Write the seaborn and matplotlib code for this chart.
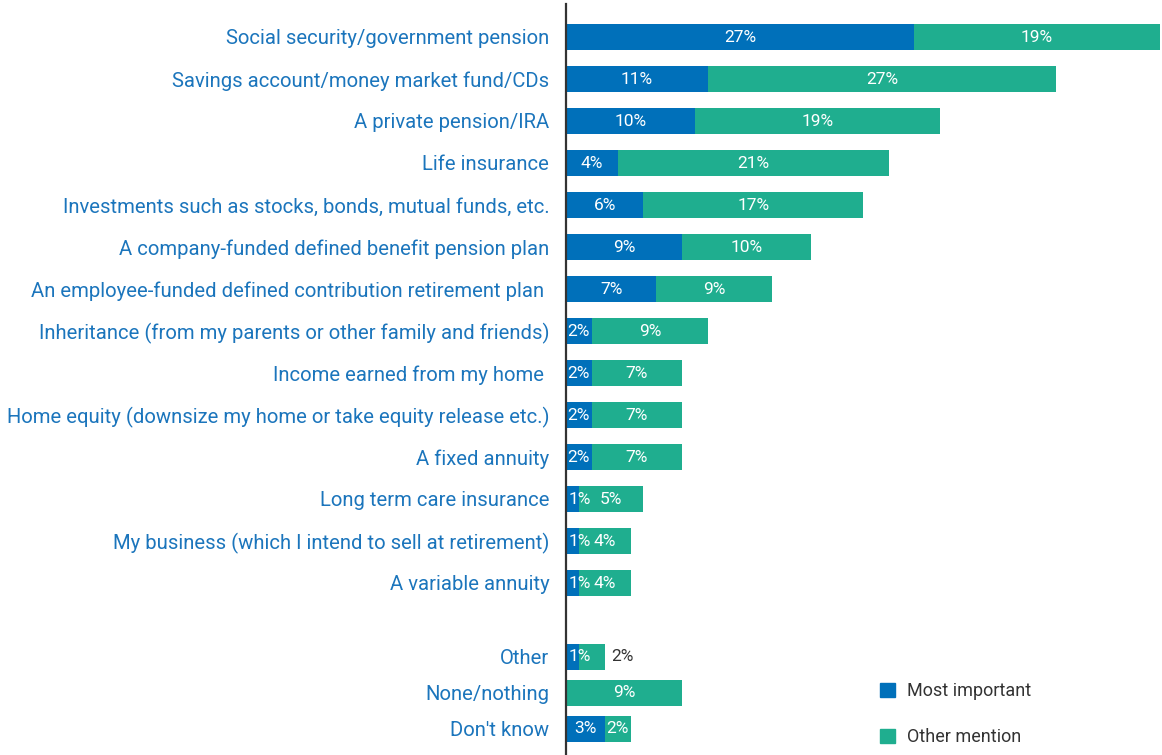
import matplotlib.pyplot as plt
import matplotlib.patches as mpatches
import pandas as pd
import seaborn as sns

# Data
sources = ['Social security/government pension',
           'Savings account/money market fund/CDs',
           'A private pension/IRA',
           'Life insurance',
           'Investments such as stocks, bonds, mutual funds, etc.',
           'A company-funded defined benefit pension plan',
           'An employee-funded defined contribution retirement plan ',
           'Inheritance (from my parents or other family and friends)',
           'Income earned from my home ',
           'Home equity (downsize my home or take equity release etc.)',
           'A fixed annuity',
           'Long term care insurance',
           'My business (which I intend to sell at retirement)',
           'A variable annuity',
           'Other',
           'None/nothing',
           "Don't know"]
most_important = [27, 11, 10, 4, 6, 9, 7, 2, 2, 2, 2, 1, 1, 1, 1, 0, 3]
other_mention = [19, 27, 19, 21, 17, 10, 9, 9, 7, 7, 7, 5, 4, 4, 2, 9, 2]

blue = '#0070BA'
teal = '#1FAE8F'
label_blue = '#1B75BC'

# row positions: 14 main rows, then a gap and 3 tighter rows
main_rows = 14
positions = list(range(main_rows)) + [14.76 + k * 36 / 42 for k in range(3)]

df = pd.DataFrame({'source': sources, 'pos': positions,
                   'most': most_important, 'other': other_mention})
df['total'] = df['most'] + df['other']

sns.set_theme(style='white')
plt.rcParams['font.family'] = ['Roboto', 'DejaVu Sans']

fig = plt.figure(figsize=(11.62, 7.55), dpi=100)
ax = fig.add_axes([566 / 1162, 0, 1 - 566 / 1162 - 0.002, 1 - 4 / 755])

sns.barplot(data=df, x='total', y='pos', orient='y', native_scale=True,
            color=teal, saturation=1, width=0.722, errorbar=None,
            linewidth=0, ax=ax)
sns.barplot(data=df, x='most', y='pos', orient='y', native_scale=True,
            color=blue, saturation=1, width=0.722, errorbar=None,
            linewidth=0, ax=ax)

ax.set_xlim(0, 46)
ax.set_ylim((755 - 37) / 42, (4 - 37) / 42)
ax.set_yticks(positions)
ax.set_yticklabels(sources, fontsize=14.6, color=label_blue)
ax.tick_params(axis='y', length=0, pad=12)
ax.set_xticks([])
ax.set_xlabel('')
ax.set_ylabel('')
for s in ['top', 'right', 'bottom']:
    ax.spines[s].set_visible(False)
ax.spines['left'].set_color('#333333')
ax.spines['left'].set_linewidth(1.6)

# value labels
for _, r in df.iterrows():
    if r['most'] > 0:
        if r['most'] <= 1:
            ax.text(0.2, r['pos'], f"{r['most']}%", ha='left', va='center',
                    color='white', fontsize=12.5)
        else:
            ax.text(r['most'] / 2, r['pos'], f"{r['most']}%", ha='center',
                    va='center', color='white', fontsize=12.5)
    if r['source'] == 'Other':
        ax.text(r['total'] + 0.5, r['pos'], f"{r['other']}%", ha='left',
                va='center', color='#333333', fontsize=12.5)
    else:
        ax.text(r['most'] + r['other'] / 2, r['pos'], f"{r['other']}%",
                ha='center', va='center', color='white', fontsize=12.5)

handles = [mpatches.Patch(color=blue, label='Most important'),
           mpatches.Patch(color=teal, label='Other mention')]
fig.legend(handles=handles, loc='upper left', bbox_to_anchor=(871 / 1162, 1 - 673 / 755),
           frameon=False, fontsize=13, handlelength=0.85, handleheight=0.85,
           handletextpad=0.65, labelspacing=1.55, borderpad=0,
           labelcolor='#333333')

plt.savefig('out.png', dpi=100)
